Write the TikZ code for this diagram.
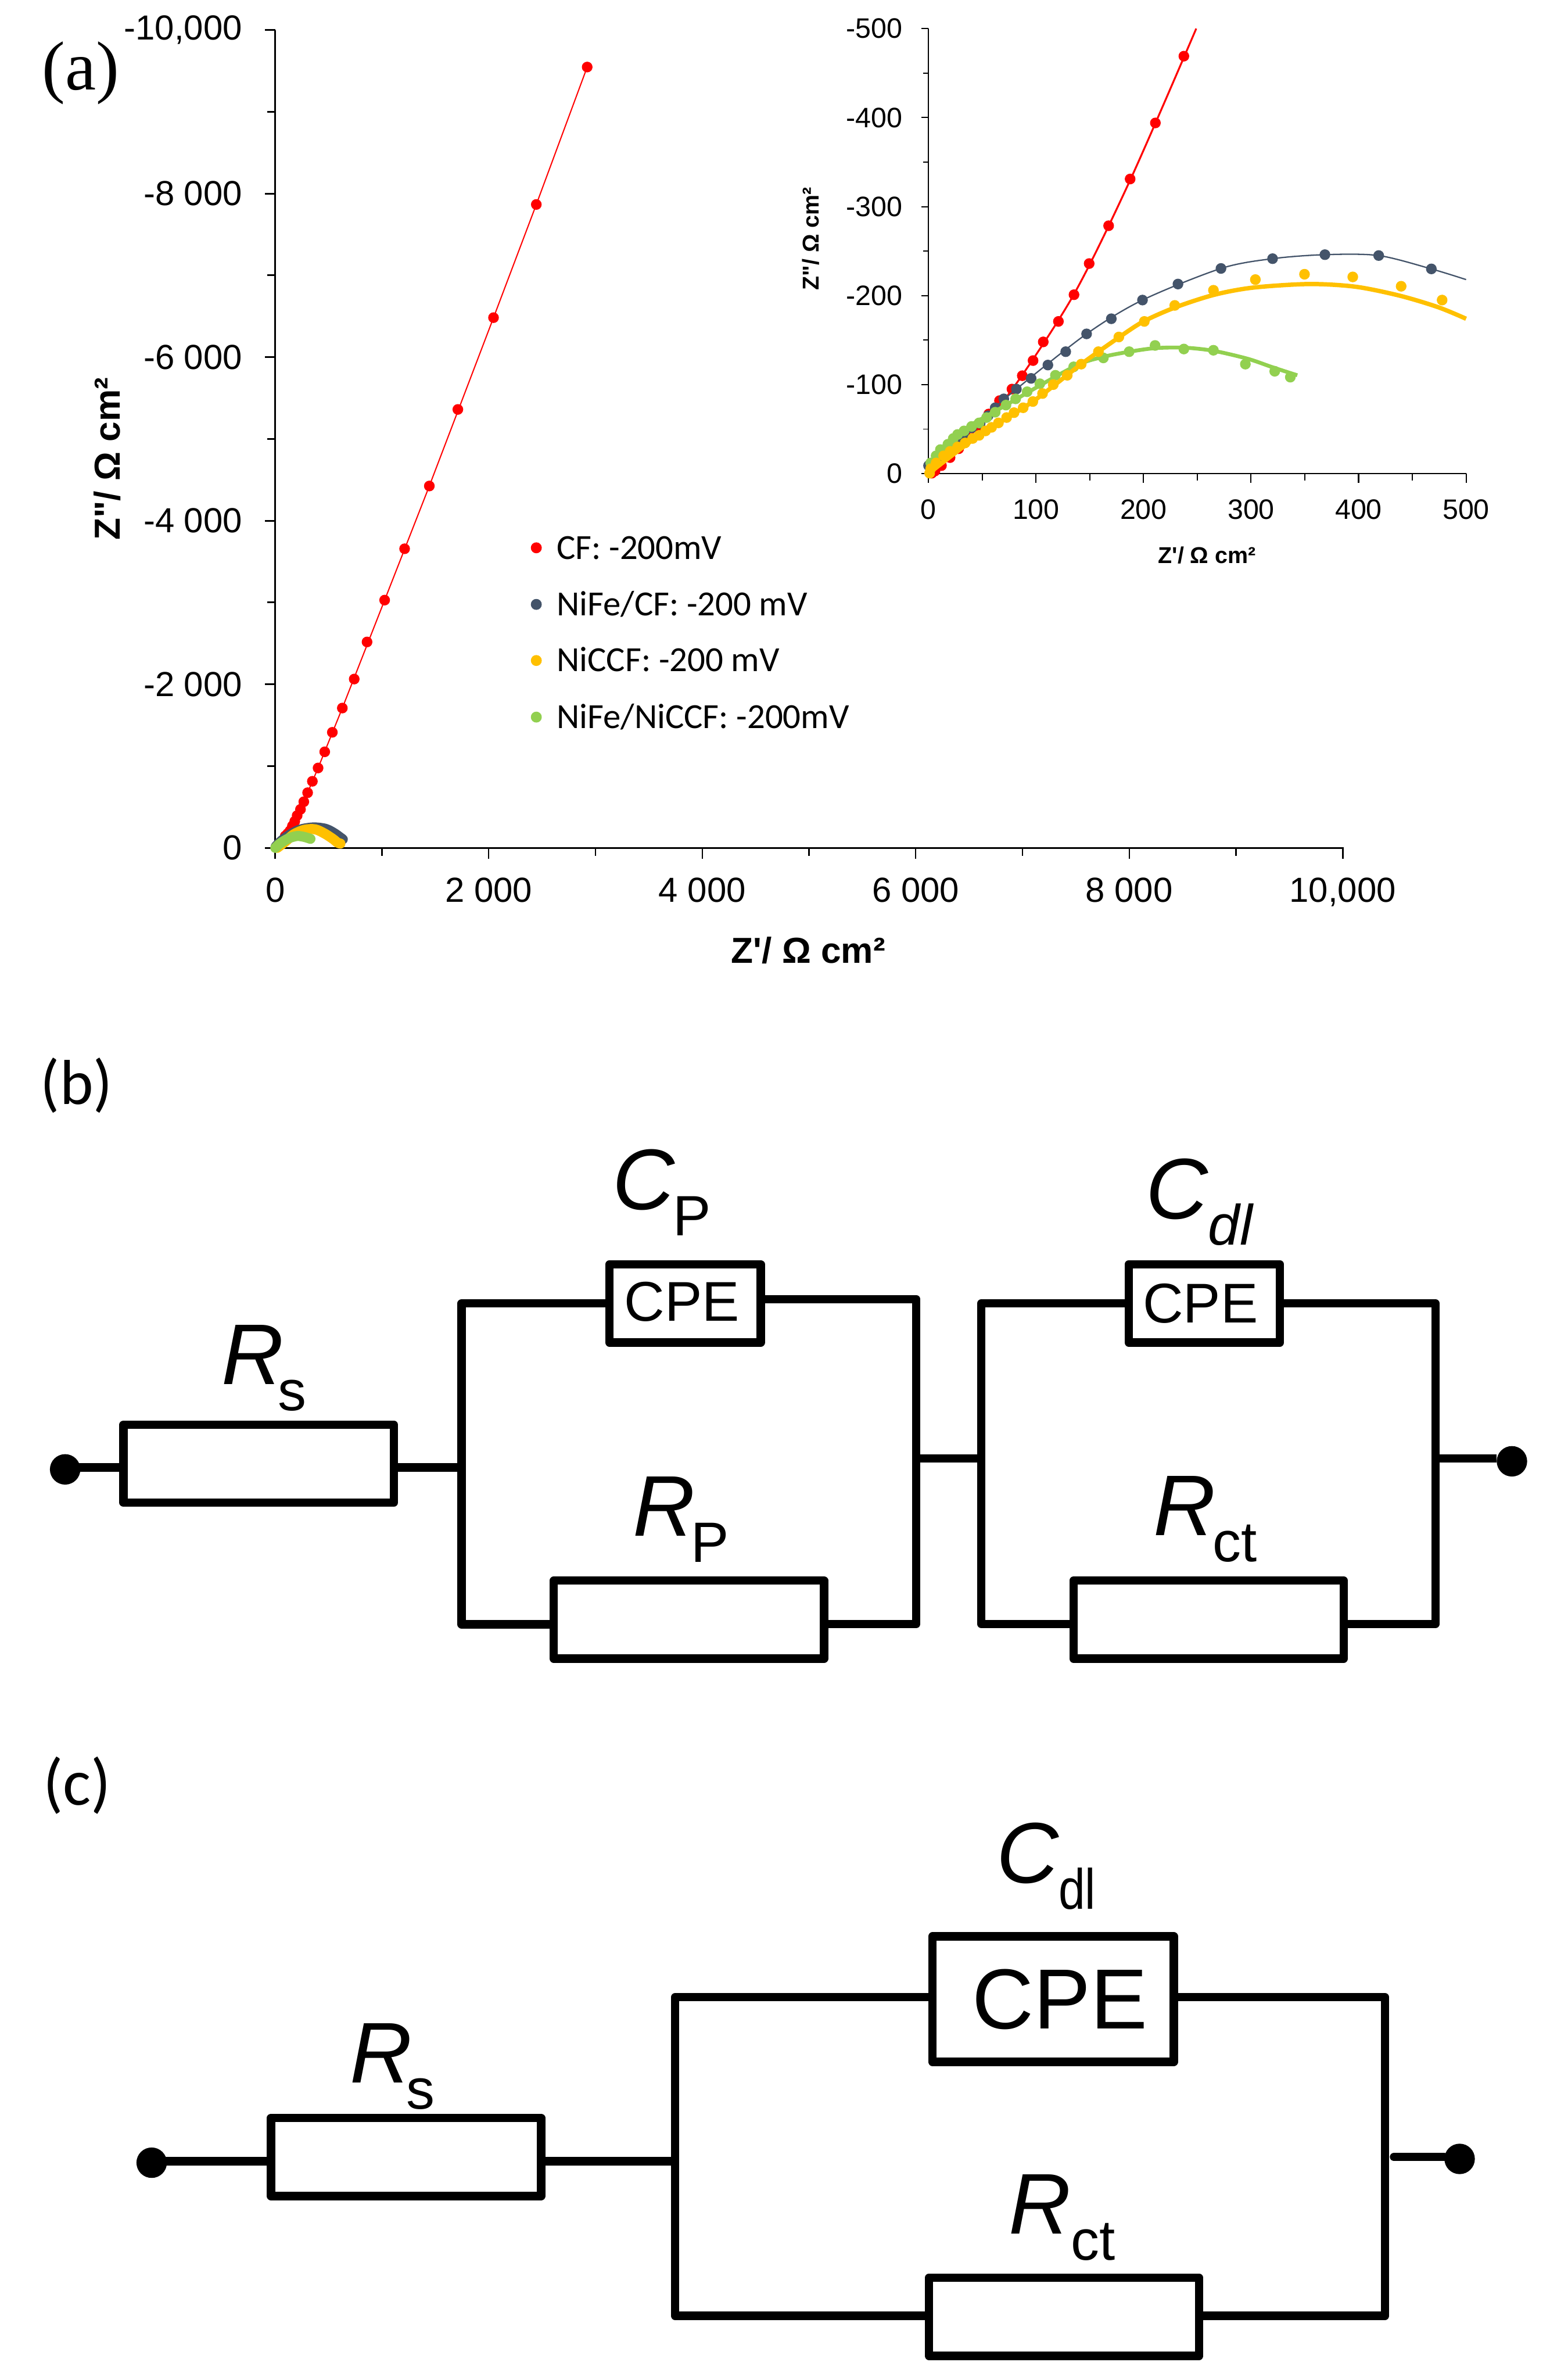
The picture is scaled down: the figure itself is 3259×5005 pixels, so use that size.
\documentclass[tikz,border=0pt]{standalone}
\usepackage{fontspec}
\newfontfamily\arialfont{Liberation Sans}
\newfontfamily\timesfont{Liberation Serif}
\newfontfamily\carlitofont{Carlito}
\usetikzlibrary{positioning}
\definecolor{cfred}{HTML}{FF0000}
\definecolor{nifeblue}{HTML}{44546A}
\definecolor{niccfyellow}{HTML}{FFC000}
\definecolor{nifegreen}{HTML}{92D050}
\newcommand{\bigsym}[1]{{\fontsize{51.5}{60}\selectfont\itshape #1}}
\newcommand{\subsym}[1]{\raisebox{-15.6pt}{\fontsize{34}{40}\selectfont #1}}
\tikzstyle{res} = [rectangle, draw=black, line width=5pt, minimum width=5.68cm, minimum height=1.64cm, inner sep=0pt, line join=round]
\tikzstyle{cpe} = [rectangle, draw=black, line width=5pt, minimum width=3.18cm, minimum height=1.64cm, inner sep=0pt, line join=round, font=\arialfont\fontsize{33.5}{40}\selectfont]
\tikzstyle{wire} = [line width=5pt, line join=round]
\tikzstyle{term} = [circle, fill=black, inner sep=0pt, minimum size=0.64cm]
\tikzstyle{sym} = [inner sep=0pt, anchor=base west, font=\arialfont]
\tikzstyle{tickmain} = [inner sep=0pt, font=\arialfont\fontsize{20.8}{24}\selectfont]
\tikzstyle{tickinset} = [inner sep=0pt, font=\arialfont\fontsize{16.8}{20}\selectfont]
\tikzstyle{axmain} = [inner sep=0pt, font=\arialfont\bfseries\fontsize{21.6}{26}\selectfont]
\tikzstyle{axinset} = [inner sep=0pt, font=\arialfont\bfseries\fontsize{13.7}{16}\selectfont]
\tikzstyle{legdot} = [circle, inner sep=0pt, minimum size=0.23cm]
\tikzstyle{legtext} = [inner sep=0pt, text height=0.47cm, text depth=0pt, font=\carlitofont\fontsize{21.1}{25}\selectfont]
\tikzstyle{blob} = [line width=6pt, line cap=round, line join=round]

\begin{document}
\begin{tikzpicture}[x=0.01cm, y=-0.01cm]
    \useasboundingbox (0,0) rectangle (3259,5005);

    % Panel labels
    \node (parta) at (170,154) [inner sep=0pt, font=\timesfont\fontsize{41.5}{48}\selectfont] {(a)};
    \node (partb) at (161,2283) [inner sep=0pt, font=\carlitofont\fontsize{38}{44}\selectfont] {(b)};
    \node (partc) at (162,3755) [inner sep=0pt, font=\carlitofont\fontsize{39.5}{46}\selectfont] {(c)};

    % Main chart axes
    \draw [line width=1pt] (579,63) -- (579,1806);
    \draw [line width=1pt] (557,1783) -- (2824,1783) -- (2824,1806);
    \foreach \y/\t in {1783/0, 1439/-2 000, 1095/-4 000, 751/-6 000, 407/-8 000, 63/{-10,000}} {
        \draw [line width=1pt] (579,\y) -- (557,\y);
        \node (mainy\y) [tickmain, anchor=east] at (510,\y) {\t};
    }
    \foreach \y in {1611,1267,923,579,235}
        \draw [line width=1pt] (579,\y) -- (562,\y);
    \foreach \x/\t in {579/0, 1028/2 000, 1477/4 000, 1926/6 000, 2375/8 000, 2824/{10,000}} {
        \draw [line width=0.8pt] (\x,1783) -- (\x,1806);
        \node (mainx\x) [tickmain, anchor=base] at (\x,1897) {\t};
    }
    \foreach \x in {803.5,1252.5,1701.5,2150.5,2599.5}
        \draw [line width=0.8pt] (\x,1783) -- (\x,1800);
    \node (mainylab) [axmain, rotate=90] at (226,965) {Z"/ Ω cm²};
    \node (mainxlab) [axmain, anchor=base] at (1700,2025) {Z'/ Ω cm²};

    % Main chart data
    \draw [cfred, line width=0.7pt] plot coordinates {(590,1762) (632,1702) (669,1615) (720,1489) (809,1262) (903,1022) (1038,668) (1128,430) (1235,141)};
    \foreach \p in {(1235,141),(1128,430),(1038,668),(963,861),(903,1022),(851,1154),(809,1262),(772,1350),(745,1428),(720,1489),(699,1540),(683,1581),(669,1615),(657,1643),(647,1667),(639,1686),(632,1702),(625,1715),(620,1727),(615,1737),(610,1747),(605,1753),(600,1758)}
        \fill [cfred] \p circle [radius=3.2pt];
    \draw [blob, nifeblue] plot [smooth] coordinates {(580,1780) (593,1767) (613,1753) (633,1744) (660,1740) (685,1743) (703,1752) (717,1762) (721,1765)};
    \draw [blob, niccfyellow] plot [smooth] coordinates {(583,1783) (600,1770) (617,1755) (640,1745) (663,1744) (683,1753) (700,1764) (710,1772) (716,1774)};
    \draw [blob, nifegreen] plot [smooth] coordinates {(579,1783) (590,1773) (607,1763) (625,1758) (640,1760) (653,1764)};

    % Legend
    \node (legcf) [legdot, fill=cfred] at (1128,1152) {};
    \node (legcft) [legtext, right=0.3cm of legcf] {CF: -200mV};
    \node (legnife) [legdot, fill=nifeblue] at (1128,1271) {};
    \node (legnifet) [legtext, right=0.3cm of legnife] {NiFe/CF: -200 mV};
    \node (legni) [legdot, fill=niccfyellow] at (1128,1389) {};
    \node (legnit) [legtext, right=0.3cm of legni] {NiCCF: -200 mV};
    \node (legboth) [legdot, fill=nifegreen] at (1128,1508) {};
    \node (legbotht) [legtext, right=0.3cm of legboth] {NiFe/NiCCF: -200mV};

    % Inset chart
    \begin{scope}[shift={(1953,996)}, x=0.0226cm, y=0.0187cm]
        \draw [line width=0.7pt] (0,500) -- (0,0) -- ++(0pt,-5.4pt);
        \draw [line width=0.8pt] (0,0) ++(-4.3pt,0pt) -- (500,0);
        \foreach \v in {0,100,...,500} {
            \draw [line width=0.7pt] (0,\v) -- ++(-4.3pt,0pt);
            \draw [line width=0.7pt] (\v,0) -- ++(0pt,-5.4pt);
            \node (insetx\v) [tickinset, anchor=base] at ([yshift=-0.96cm]\v,0) {\v};
        }
        \foreach \v in {100,200,...,500}
            \node (insety\v) [tickinset, anchor=east] at ([xshift=-0.54cm]0,\v) {-\v};
        \node (insety0) [tickinset, anchor=east] at ([xshift=-0.54cm]0,0) {0};
        \foreach \v in {50,150,...,450} {
            \draw [line width=0.6pt] (0,\v) -- ++(-3.4pt,0pt);
            \draw [line width=0.6pt] (\v,0) -- ++(0pt,-4pt);
        }
        \node (insetylab) [axinset, rotate=90] at ([xshift=-2.47cm]0,264) {Z"/ Ω cm²};
        \node (insetxlab) [axinset, anchor=base] at ([yshift=-1.88cm]259,0) {Z'/ Ω cm²};

        % Red series
        \draw [cfred, line width=1.1pt] plot [smooth] coordinates {(5,0) (46,52) (78,95) (135,201) (188,331) (249,500)};
        \foreach \p in {(237.5,469),(211,394),(187.5,331),(167.5,278.5),(149.4,236),(135.3,201),(120.8,171),(106.7,148),(97.2,127),(87.2,110),(77.6,95),(66,82),(56,67),(46,52),(37,40),(28,28),(20,18),(12,9),(6,3),(3,0.5)}
            \fill [cfred] \p circle [radius=3.2pt];
        % Blue series
        \draw [nifeblue, line width=0.8pt] plot [smooth] coordinates {(0,9) (40,51.5) (81.7,95) (147,157) (199,195) (272,230.5) (320,241.5) (368.7,246) (418.7,245) (467.7,230) (500,218)};
        \foreach \p in {(467.7,230),(418.7,245),(368.7,246),(320,241.5),(272,230.5),(232,213),(199,195),(170,174),(147,157),(127.6,137),(111,122),(95.4,107),(81.7,95),(70,84),(62,74),(55.4,65),(48,56.5),(40,51.5),(33,44),(26,37),(18,28),(10,18),(4,12),(0,9)}
            \fill [nifeblue] \p circle [radius=3.2pt];
        % Green series
        \draw [nifegreen, line width=2.3pt] plot [smooth] coordinates {(0,2) (27,44) (72,77) (135,120) (162,131) (187,137) (211,141) (238,141.5) (265,138) (297,129) (320,119.5) (343,110.5)};
        \foreach \p in {(336.5,108.4),(322,115),(294.7,123),(265,138.6),(237.5,140),(210.7,144),(186.6,137),(162.6,130),(135,120),(118,110.5),(103.5,101),(91.7,92),(81,84),(72,77),(62,69),(54,63),(47,57),(40,53),(33,48),(27,44),(23,39.5),(18,33),(11,27),(7,20),(2,12)}
            \fill [nifegreen] \p circle [radius=3.2pt];
        % Yellow series
        \draw [niccfyellow, line width=2.6pt] plot [smooth] coordinates {(0,0) (47,43) (97,81) (142,123) (177,153) (200,171) (230,187) (266,201) (302,209) (354,213) (397,210) (438,200) (474,187) (500,174)};
        \foreach \p in {(477.7,195),(439.6,210.5),(394.6,221),(349.7,224),(304,218),(265,206),(229,189),(200.7,171),(177,153.5),(158,137),(142,123),(129,110.5),(116,100),(106,90),(97,81),(88,74),(79.5,68.5),(72.6,63),(65,57),(58.6,52),(53,48),(47,43),(41,39.5),(34,34.5),(27,30),(20,25),(14,20),(7,12),(2,5.5),(1,0.5)}
            \fill [niccfyellow] \p circle [radius=3.2pt];
    \end{scope}

    % Circuit (b): nodes
    \node (bin) [term] at (137,3090) {};
    \node (brs) [res] at (544,3078) {};
    \node (bcp) [cpe] at (1441,2741) {\raisebox{2.5pt}{\hspace{-0.14cm}CPE}};
    \node (brp) [res] at (1449,3406) {};
    \node (bcdl) [cpe] at (2533,2741) {\hspace{-0.16cm}CPE};
    \node (brct) [res] at (2542,3406) {};
    \node (bout) [term] at (3180,3073) {};
    \coordinate (bla) at (971,2741);
    \coordinate (blb) at (971,3416);
    \coordinate (bra) at (1927,2732);
    \coordinate (brb) at (1927,3415);
    \coordinate (bma) at (2064,2741);
    \coordinate (bmb) at (2064,3415);
    \coordinate (bna) at (3019,2741);
    \coordinate (bnb) at (3019,3415);
    \coordinate (bwl) at (137,3086);
    \coordinate (bwm) at (1927,3067);

    % Circuit (b): labels
    \node (blrs) [sym] at (465,2911) {\bigsym{R}\kern-3.2pt\subsym{s}};
    \node (blcp) [sym] at (1288,2543) {\bigsym{C}\kern-1.2pt\subsym{P}};
    \node (blrp) [sym] at (1331,3230) {\bigsym{R}\kern-2.4pt\subsym{P}};
    \node (blcdl) [sym] at (2410,2563) {\bigsym{C}\subsym{\itshape dl}};
    \node (blrct) [sym] at (2425,3229) {\bigsym{R}\kern-1.6pt\subsym{ct}};

    % Circuit (b): wires
    \draw [wire] (bwl) -- (brs.west |- bwl);
    \draw [wire] (brs.east |- bwl) -- (bwl -| bla);
    \draw [wire] (bcp) -- (bla) -- (blb) -- (brp.west |- blb);
    \draw [wire] (bcp.east |- bra) -- (bra) -- (brb) -- (brp.east |- brb);
    \draw [wire] (bwm) -- (bwm -| bma);
    \draw [wire] (bcdl) -- (bma) -- (bmb) -- (brct.west |- bmb);
    \draw [wire] (bcdl) -- (bna) -- (bnb) -- (brct.east |- bnb);
    \draw [wire] (bwm -| bna) -- (bout.west |- bwm);

    % Circuit (c): nodes
    \node (cin) [term] at (319,4548) {};
    \node (crs) [res] at (854,4536) {};
    \node (ccdl) [cpe, minimum width=5.07cm, minimum height=2.64cm, font=\arialfont\fontsize{51}{58}\selectfont] at (2215,4204) {\hspace{0.28cm}CPE};
    \node (crct) [res] at (2238,4872) {};
    \node (cout) [term] at (3070,4540) {};
    \coordinate (cla) at (1420,4200);
    \coordinate (clb) at (1420,4870);
    \coordinate (cra) at (2913,4200);
    \coordinate (crb) at (2913,4870);
    \coordinate (cwl) at (319,4545);
    \coordinate (cwr) at (2932,4536);

    % Circuit (c): labels
    \node (clrs) [sym] at (736,4380) {\bigsym{R}\kern-3.6pt\subsym{s}};
    \node (clcdl) [sym] at (2095,3960) {\bigsym{C}\subsym{\scalebox{0.84}[1]{dl}}};
    \node (clrct) [sym] at (2121,4698) {\bigsym{R}\subsym{ct}};

    % Circuit (c): wires
    \draw [wire] (cwl) -- (crs.west |- cwl);
    \draw [wire] (crs.east |- cwl) -- (cwl -| cla);
    \draw [wire] (ccdl.west |- cla) -- (cla) -- (clb) -- (crct.west |- clb);
    \draw [wire] (ccdl.east |- cra) -- (cra) -- (crb) -- (crct.east |- crb);
    \draw [wire, line cap=round] (cwr) -- (cout.west |- cwr);
\end{tikzpicture}
\end{document}
